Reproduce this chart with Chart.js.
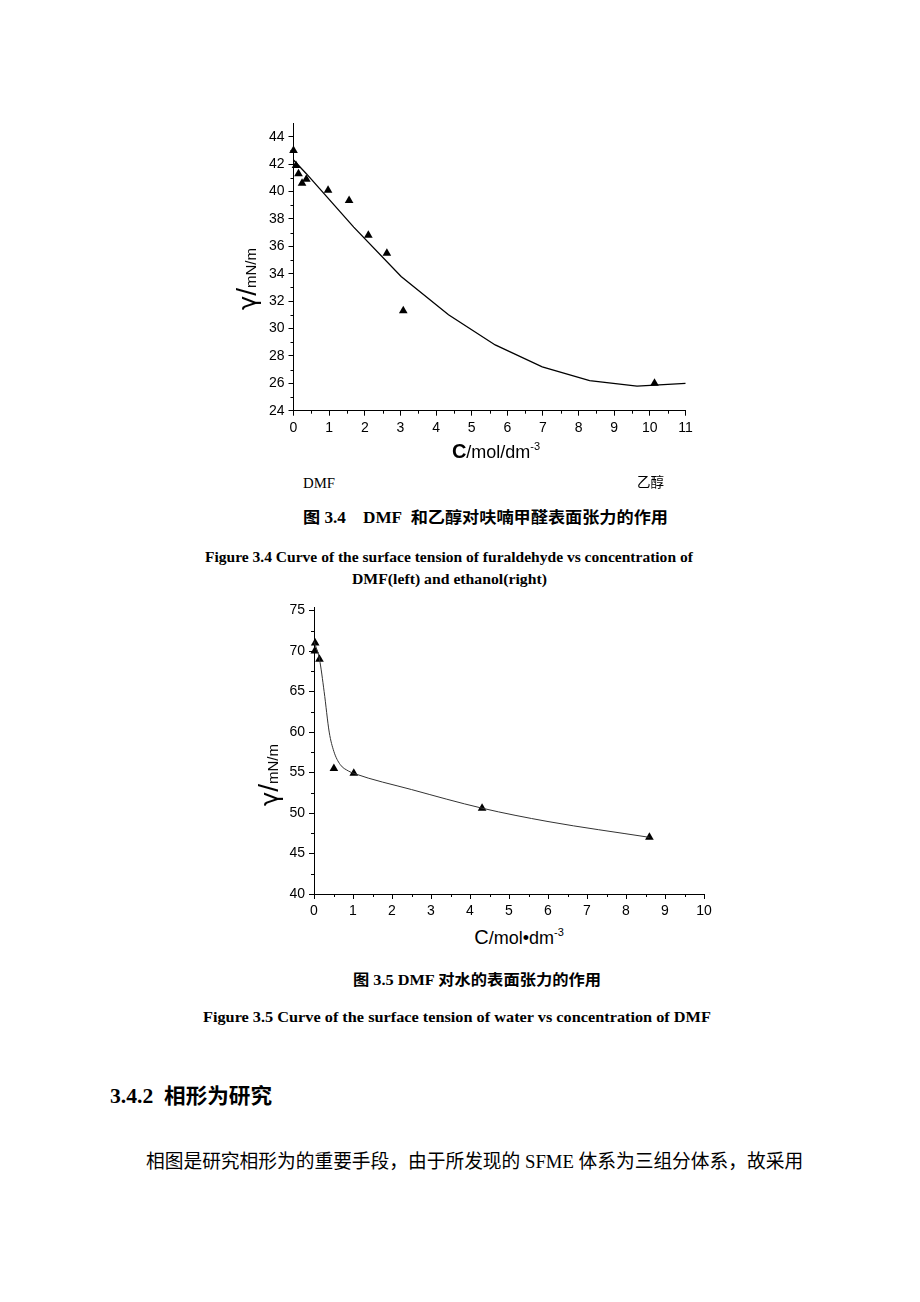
<!DOCTYPE html>
<html>
<head>
<meta charset="utf-8">
<script src="https://cdn.jsdelivr.net/npm/chart.js@4.4.1/dist/chart.umd.min.js"></script>
<style>
  html, body { margin: 0; padding: 0; background: #fff; }
  #page { position: relative; width: 920px; height: 1302px; overflow: hidden; background: #fff; }
  .box { position: absolute; }
  .txt { position: absolute; white-space: nowrap; color: #000; transform-origin: left center; }
  .serif { font-family: "Liberation Serif", "Noto Sans CJK SC", serif; }
  .axt { position: absolute; white-space: nowrap; color: #000; font-family: "Liberation Sans", Arial, sans-serif; transform: translate(-50%, -50%); }
  .axt.rot { transform: translate(-50%, -50%) rotate(-90deg); }
  .axt sup { font-size: 11px; vertical-align: 8px; line-height: 0; }
  .gam { font-family: "DejaVu Sans", sans-serif; font-size: 24px; }
</style>
</head>
<body>
<div id="page">
  <div class="box" style="left:230px;top:110px;width:470px;height:330px;"><canvas id="furChart"></canvas></div>
  <div class="box" style="left:250px;top:595px;width:470px;height:330px;"><canvas id="watChart"></canvas></div>

  <div class="axt rot" style="left:247px;top:279px;"><span class="gam">γ</span><span style="font-size:28px">/</span><span style="font-size:15px">mN/m</span></div>
  <div class="axt" style="left:496px;top:451px;"><b style="font-size:20px">C</b><span style="font-size:18px">/mol/dm<sup>-3</sup></span></div>

  <div class="axt rot" style="left:269px;top:775px;"><span class="gam">γ</span><span style="font-size:28px">/</span><span style="font-size:15px">mN/m</span></div>
  <div class="axt" style="left:519px;top:937px;"><span style="font-size:20px">C</span><span style="font-size:18px">/mol•dm<sup>-3</sup></span></div>

  <div class="txt serif" data-w="32" style="left:303px;top:473px;line-height:20px;font-size:15px;">DMF</div>
  <div class="txt serif" data-w="27" style="left:637px;top:473px;line-height:20px;font-size:14px;">乙醇</div>
  <div class="txt serif" data-w="365" style="left:303px;top:508px;line-height:20px;font-size:16px;font-weight:bold;">图 3.4&nbsp;&nbsp;&nbsp; DMF&nbsp; 和乙醇对呋喃甲醛表面张力的作用</div>
  <div class="txt serif" data-w="488" style="left:205px;top:547px;line-height:20px;font-size:15px;font-weight:bold;">Figure 3.4 Curve of the surface tension of furaldehyde vs concentration of</div>
  <div class="txt serif" data-w="195" style="left:352px;top:569px;line-height:20px;font-size:15px;font-weight:bold;">DMF(left) and ethanol(right)</div>

  <div class="txt serif" data-w="248" style="left:353px;top:970px;line-height:20px;font-size:15px;font-weight:bold;">图 3.5 DMF 对水的表面张力的作用</div>
  <div class="txt serif" data-w="508" style="left:203px;top:1007px;line-height:20px;font-size:15px;font-weight:bold;">Figure 3.5 Curve of the surface tension of water vs concentration of DMF</div>

  <div class="txt serif" data-w="162" style="left:110px;top:1084px;line-height:24px;font-size:21px;font-weight:bold;">3.4.2&nbsp; 相形为研究</div>
  <div class="txt serif" data-w="657" style="left:146px;top:1150px;line-height:24px;font-size:19px;">相图是研究相形为的重要手段，由于所发现的 SFME 体系为三组分体系，故采用</div>
</div>

<script>
// Figure 3.4: surface tension of furaldehyde vs concentration
const furPointsX = [0, 0.07, 0.14, 0.24, 0.36, 0.97, 1.56, 2.1, 2.62, 3.08, 10.13];
const furPointsY = [43.0, 41.9, 41.3, 40.6, 40.9, 40.1, 39.35, 36.8, 35.5, 31.3, 26.0];
const furFitX = [0, 0.36, 1.69, 3.02, 4.35, 5.66, 6.98, 8.31, 9.64, 11];
const furFitY = [42.3, 41.3, 37.4, 33.8, 31.0, 28.8, 27.2, 26.2, 25.8, 26.0];
const furXTicks = [0, 11, 1];
const furYTicks = [24, 45, 2];

// Figure 3.5: surface tension of water vs DMF concentration
const watPointsX = [0.03, 0.02, 0.14, 0.51, 1.02, 4.31, 8.6];
const watPointsY = [71.0, 70.0, 69.0, 55.5, 54.9, 50.6, 47.0];
const watFitX = [0, 0.14, 0.26, 0.39, 0.51, 0.67, 0.88, 1.02, 2.5, 4.31, 6, 8.6];
const watFitY = [71.2, 69.0, 65.0, 60.0, 57.6, 56.0, 55.2, 54.9, 52.9, 50.6, 48.95, 47.0];
const watXTicks = [0, 10, 1];
const watYTicks = [40, 75.4, 5];

function toXY(xs, ys) {
    return xs.map((x, i) => ({ x, y: ys[i] }));
}

// small ticks half way between the labelled ones
const minorTicks = {
    id: 'minorTicks',
    afterDraw(chart, args, opts) {
        const ctx = chart.ctx;
        const xs = chart.scales.x;
        const ys = chart.scales.y;
        ctx.save();
        ctx.strokeStyle = '#000';
        ctx.lineWidth = 1;
        ctx.beginPath();
        for (let v = xs.min + opts.x; v < xs.max; v += opts.x * 2) {
            const px = Math.round(xs.getPixelForValue(v)) + 0.5;
            ctx.moveTo(px, ys.bottom);
            ctx.lineTo(px, ys.bottom + 3);
        }
        for (let v = ys.min + opts.y; v < ys.max; v += opts.y * 2) {
            const py = Math.round(ys.getPixelForValue(v)) + 0.5;
            ctx.moveTo(xs.left, py);
            ctx.lineTo(xs.left - 3, py);
        }
        ctx.stroke();
        ctx.restore();
    }
};

function axis(range, width, height) {
    const ax = {
        type: 'linear',
        min: range[0],
        max: range[1],
        grid: { drawOnChartArea: false, drawTicks: true, tickLength: 5, color: '#000', tickColor: '#000' },
        border: { display: true, color: '#000', width: 1 },
        ticks: {
            stepSize: range[2],
            includeBounds: false,
            color: '#000',
            padding: 4,
            maxRotation: 0,
            autoSkip: false,
            font: { family: 'Liberation Sans, Arial, sans-serif', size: 14 }
        },
        afterBuildTicks: (s) => {
            s.ticks = s.ticks.filter((t) => Math.abs(t.value / range[2] - Math.round(t.value / range[2])) < 1e-6);
        }
    };
    if (width) ax.afterFit = (s) => { s.width = width; };
    if (height) ax.afterFit = (s) => { s.height = height; };
    return ax;
}

function makeChart(id, pts, fit, xr, yr, layout, fitStyle, minor) {
    return new Chart(document.getElementById(id), {
        type: 'scatter',
        data: {
            datasets: [{
                data: fit,
                showLine: true,
                borderColor: fitStyle.color,
                borderWidth: fitStyle.width,
                pointRadius: 0,
                tension: 0,
                cubicInterpolationMode: fitStyle.smooth ? 'monotone' : 'default',
                clip: false
            }, {
                data: pts,
                pointStyle: 'triangle',
                pointRadius: 5,
                backgroundColor: '#000',
                borderColor: '#000',
                borderWidth: 0,
                clip: false
            }]
        },
        options: {
            responsive: true,
            maintainAspectRatio: false,
            animation: false,
            layout: { padding: layout.pad },
            plugins: { legend: { display: false }, tooltip: { enabled: false }, minorTicks: minor },
            scales: {
                x: axis(xr, 0, layout.xh),
                y: axis(yr, layout.yw, 0)
            }
        },
        plugins: [minorTicks]
    });
}

makeChart('furChart', toXY(furPointsX, furPointsY), toXY(furFitX, furFitY), furXTicks, furYTicks,
    { pad: { top: 13, right: 14.5, left: 0, bottom: 0 }, yw: 63.5, xh: 29.3 },
    { color: '#000', width: 1.3, smooth: false }, { x: 0.5, y: 1 });

makeChart('watChart', toXY(watPointsX, watPointsY), toXY(watFitX, watFitY), watXTicks, watYTicks,
    { pad: { top: 10, right: 16, left: 0, bottom: 0 }, yw: 64, xh: 31 },
    { color: '#333', width: 1, smooth: true }, { x: 0.5, y: 2.5 });

// squeeze caption lines to the widths measured on the page
document.querySelectorAll('.txt[data-w]').forEach((el) => {
    const target = parseFloat(el.dataset.w);
    const w = el.getBoundingClientRect().width;
    if (w > 0) el.style.transform = 'scaleX(' + (target / w).toFixed(3) + ')';
});
</script>
</body>
</html>
